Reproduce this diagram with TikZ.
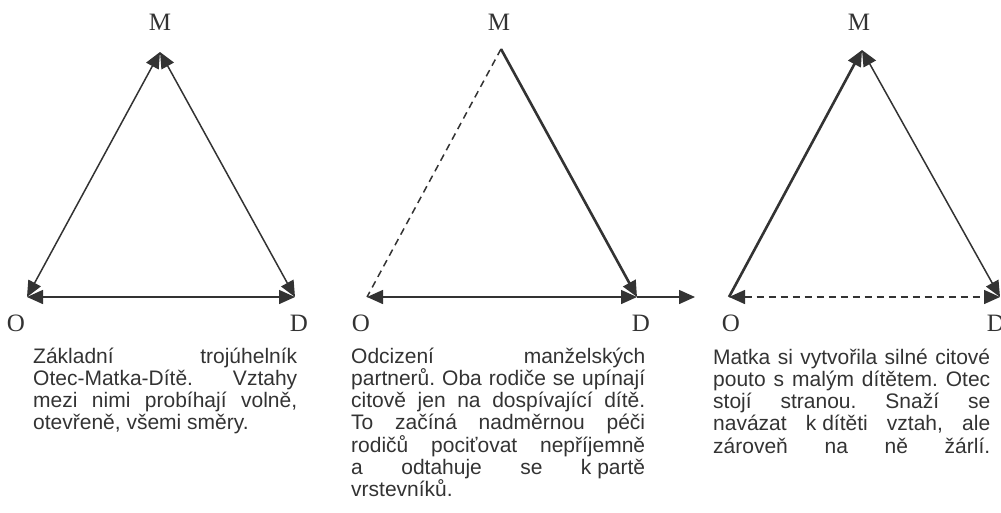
\documentclass[tikz,border=0pt]{standalone}
\usepackage{fontspec}
\setmainfont{Liberation Serif}
\setsansfont{Liberation Sans}
\usetikzlibrary{positioning, arrows.meta}
\definecolor{ink}{HTML}{333333}
\newcommand{\captext}[1]{\parbox[t]{\linewidth}{\setlength{\baselineskip}{22.3pt}#1\par}}

\begin{document}
\begin{tikzpicture}[x=1pt, y=-1pt]
    \tikzset{
        rel/.style={draw=ink, line width=1.5pt},
        strong/.style={draw=ink, line width=2.6pt},
        weak/.style={draw=ink, line width=1.5pt, dash pattern=on 7pt off 5pt},
        >={Triangle[length=16pt, width=14pt]},
        vertex/.style={font=\fontsize{25}{30}\selectfont, text=ink, inner sep=0pt},
        caption/.style={font=\sffamily\fontsize{21}{22.3}\selectfont\frenchspacing, text=ink, inner sep=0pt, align=justify, anchor=base west}
    }
    \useasboundingbox (0,0) rectangle (1001,512);

    % corners of the three triangles
    \coordinate (m1) at (160,52);
    \coordinate (o1) at (27,297);
    \coordinate (d1) at (295,297);
    \coordinate (m2) at (501,49);
    \coordinate (o2) at (367,297);
    \coordinate (d2) at (637,297);
    \coordinate (e2) at (695,297);
    \coordinate (m3) at (862,50);
    \coordinate (o3) at (729,297);
    \coordinate (d3) at (1000,297);

    \node[vertex, above=21pt of m1] (lm1) {M};
    \node[vertex, below=18pt of o1, xshift=-11pt] (lo1) {O};
    \node[vertex, below=18pt of d1, xshift=4pt] (ld1) {D};
    \node[vertex, above=18pt of m2, xshift=-2pt] (lm2) {M};
    \node[vertex, below=18pt of o2, xshift=-6pt] (lo2) {O};
    \node[vertex, below=18pt of d2, xshift=4pt] (ld2) {D};
    \node[vertex, above=19pt of m3, xshift=-3pt] (lm3) {M};
    \node[vertex, below=18pt of o3, xshift=2pt] (lo3) {O};
    \node[vertex, below=18pt of d3, xshift=-4pt] (ld3) {D};

    % first triangle
    \draw[rel, <->] (m1) -- (o1);
    \draw[rel, <->] (m1) -- (d1);
    \draw[rel, <->] (o1) -- (d1);

    % second triangle
    \draw[weak] (m2) -- (o2);
    \draw[strong, ->] (m2) -- (d2);
    \draw[rel, <->] (o2) -- (d2);
    \draw[rel, ->] (d2) -- (e2);

    % third triangle
    \draw[strong, ->] (o3) -- (m3);
    \draw[rel, <->] (m3) -- (d3);
    \draw[weak, <->] (o3) -- (d3);

    \node[caption, text width=264pt] (t1) at (33,363)
        {\captext{Základní trojúhelník\linebreak Otec-Matka-Dítě. Vztahy\linebreak mezi nimi probíhají volně,\linebreak otevřeně, všemi směry.}};
    \node[caption, text width=294pt] (t2) at (351,363)
        {\captext{Odcizení manželských\linebreak partnerů. Oba rodiče se upínají\linebreak citově jen na dospívající dítě.\linebreak To začíná nadměrnou péči\linebreak rodičů pociťovat nepříjemně\linebreak a odtahuje se \mbox{k partě}\linebreak vrstevníků.}};
    \node[caption, text width=277pt] (t3) at (713,364)
        {\captext{\parfillskip=0pt Matka si vytvořila silné citové\linebreak pouto s malým dítětem. Otec\linebreak stojí stranou. Snaží se\linebreak navázat \mbox{k dítěti} vztah, ale\linebreak zároveň na ně žárlí.}};
\end{tikzpicture}
\end{document}
